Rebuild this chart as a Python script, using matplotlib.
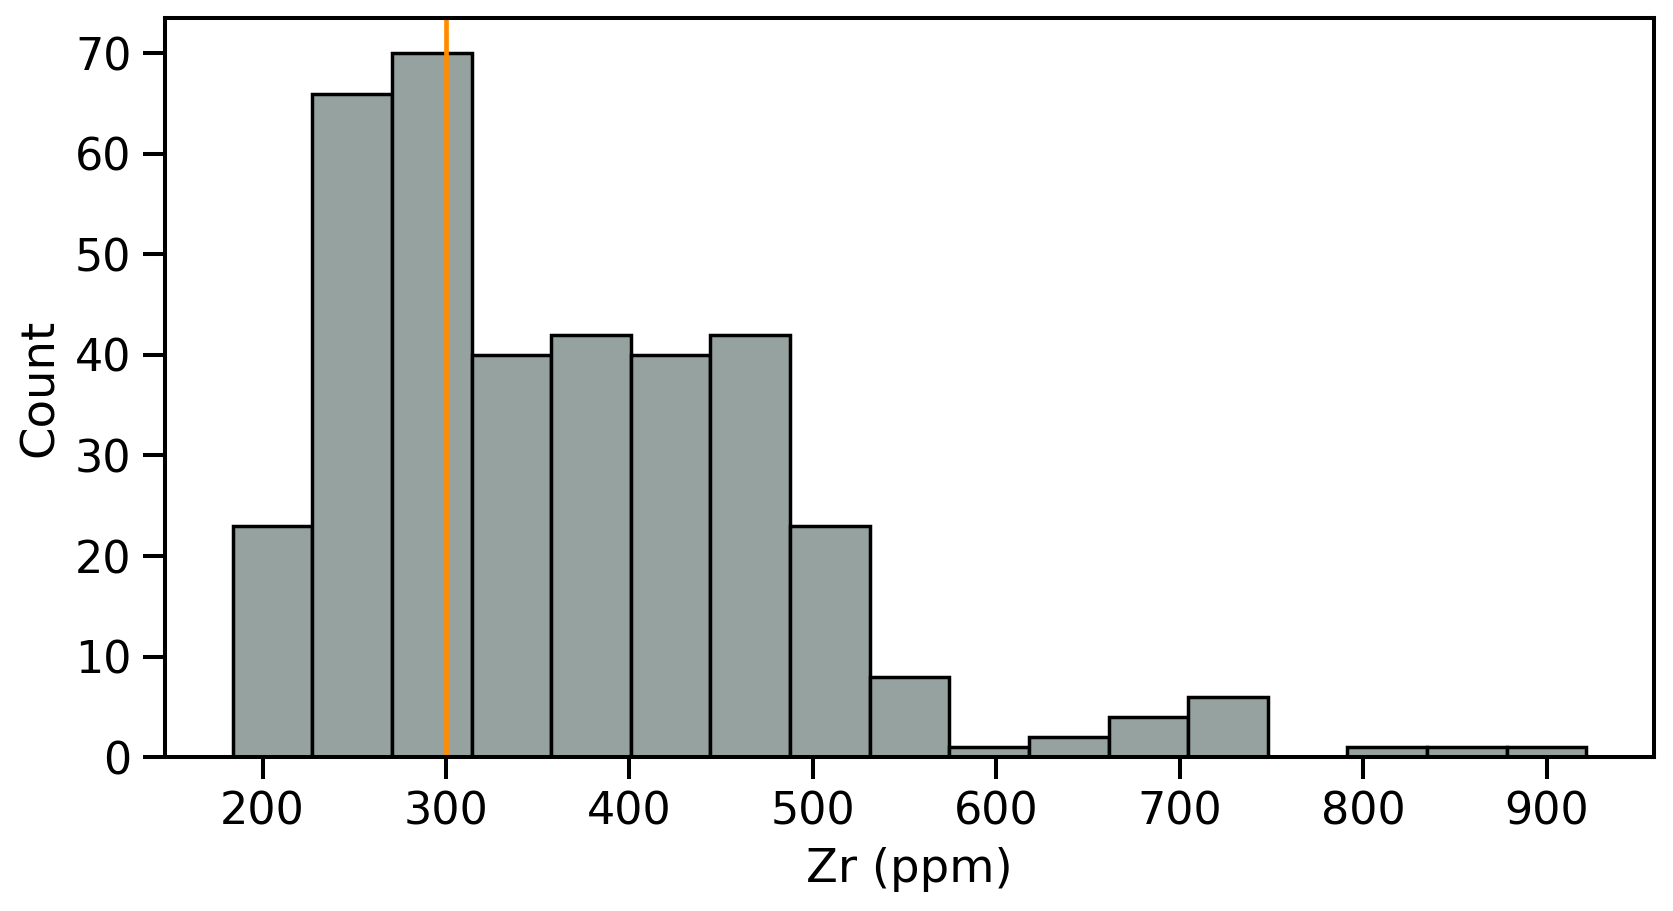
import numpy as np
import matplotlib
matplotlib.use("Agg")
import matplotlib.pyplot as plt

# histogram: 17 equal bins between ~183.7 and ~921.5 ppm
bin_lo = 183.7
bin_hi = 921.5
counts = [23, 66, 70, 40, 42, 40, 42, 23, 8, 1, 2, 4, 6, 0, 1, 1, 1]
ref_value = 300

edges = np.linspace(bin_lo, bin_hi, len(counts) + 1)
centers = (edges[:-1] + edges[1:]) / 2

plt.rcParams["font.family"] = "DejaVu Sans"
plt.rcParams["font.size"] = 32

fig = plt.figure(figsize=(16.73, 9.11), dpi=100)
ax = fig.add_axes([0.0986, 0.169, 0.89, 0.811])

ax.hist(centers, bins=edges, weights=counts, color="#96a2a0",
        edgecolor="black", linewidth=2.5)
ax.axvline(ref_value, color="#ff8c00", linewidth=3.4)

span = bin_hi - bin_lo
ax.set_xlim(bin_lo - 0.05 * span, bin_hi + 0.05 * span)
ax.set_ylim(0, max(counts) * 1.05)
ax.set_xticks([200, 300, 400, 500, 600, 700, 800, 900])
ax.set_yticks([0, 10, 20, 30, 40, 50, 60, 70])

for s in ax.spines.values():
    s.set_linewidth(2.9)
ax.tick_params(length=16, width=2.9, pad=8, labelsize=32)

ax.set_xlabel("Zr (ppm)", fontsize=33.5, labelpad=10)
ax.set_ylabel("Count", fontsize=33.5, labelpad=9)

fig.savefig("out.png", dpi=100)
